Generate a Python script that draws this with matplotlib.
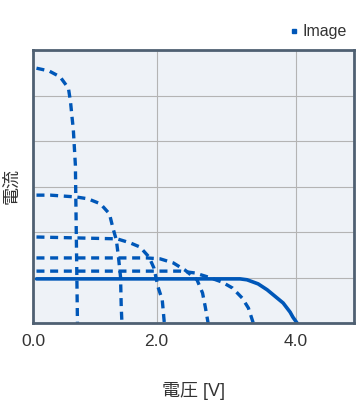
import matplotlib.pyplot as plt
from matplotlib.lines import Line2D

plt.rcParams['font.family'] = ['Liberation Sans', 'Noto Sans CJK JP', 'DejaVu Sans']

# I-V curves (V, arbitrary current units)
v1 = [0.27, 0.45, 0.61, 0.73, 0.76, 0.78, 0.80, 0.83, 0.86]
i1 = [5.60, 5.54, 5.41, 5.16, 4.86, 4.55, 4.26, 3.47, 0.0]

v2 = [0.27, 0.47, 0.84, 1.01, 1.19, 1.32, 1.37, 1.42, 1.45, 1.48, 1.49, 1.50]
i2 = [2.81, 2.81, 2.77, 2.73, 2.62, 2.40, 2.09, 1.82, 1.45, 1.01, 0.35, 0.0]

v3 = [0.27, 1.43, 1.62, 1.76, 1.89, 1.96, 2.02, 2.08, 2.11]
i3 = [1.89, 1.85, 1.76, 1.67, 1.45, 1.21, 0.79, 0.51, 0.0]

v4 = [0.27, 1.86, 2.05, 2.24, 2.41, 2.58, 2.66, 2.70, 2.74]
i4 = [1.43, 1.43, 1.41, 1.32, 1.16, 0.95, 0.66, 0.35, 0.0]

v5 = [0.27, 2.34, 2.55, 2.74, 2.94, 3.09, 3.23, 3.32, 3.39]
i5 = [1.14, 1.14, 1.10, 1.01, 0.90, 0.77, 0.55, 0.33, 0.0]

v_solid = [0.27, 3.20, 3.30, 3.46, 3.59, 3.82, 3.92, 3.96, 4.02]
i_solid = [0.97, 0.97, 0.95, 0.86, 0.73, 0.44, 0.24, 0.13, 0.0]

x_min, x_max = 0.22, 4.84
x_ticks = [x_min, 2.0, 4.0]
x_tick_labels = ['0.0', '2.0', '4.0']

blue = '#0057b8'

fig = plt.figure(figsize=(3.56, 4.13), dpi=100)
ax = fig.add_axes([33 / 356, 90 / 413, 321 / 356, 273 / 413])
ax.set_facecolor('#eef2f7')

dash = (2.4, 1.7)
for v, i in [(v1, i1), (v2, i2), (v3, i3), (v4, i4), (v5, i5)]:
    ax.plot(v, i, color=blue, lw=2.4, ls=(0, dash), solid_capstyle='butt')
ax.plot(v_solid, i_solid, color=blue, lw=2.6, solid_capstyle='round')

ax.set_xlim(x_min, x_max)
ax.set_ylim(0, 6)
ax.set_xticks(x_ticks)
ax.set_xticklabels(x_tick_labels)
ax.set_yticks(range(7))
ax.set_yticklabels([])
ax.tick_params(length=0, pad=8, labelsize=12.5, colors='#333333')
ax.grid(True, color='#b4b4b4', lw=0.8)
ax.set_axisbelow(True)
for s in ax.spines.values():
    s.set_color('#4f6072')
    s.set_linewidth(2)

ax.set_xlabel('電圧 [V]', fontsize=13, color='#333333', labelpad=24)
ax.set_ylabel('電流', fontsize=13, color='#333333')
ax.yaxis.set_label_coords(-0.038, 0.5)

handle = Line2D([], [], color=blue, marker='s', ls='none', markersize=3.5)
fig.legend([handle], ['Image'], loc='lower right', bbox_to_anchor=(0.997, 0.886),
           frameon=False, fontsize=11.5, handlelength=0.6, handletextpad=0.25,
           borderpad=0, labelcolor='#333333')

fig.savefig('out.png', dpi=100)
